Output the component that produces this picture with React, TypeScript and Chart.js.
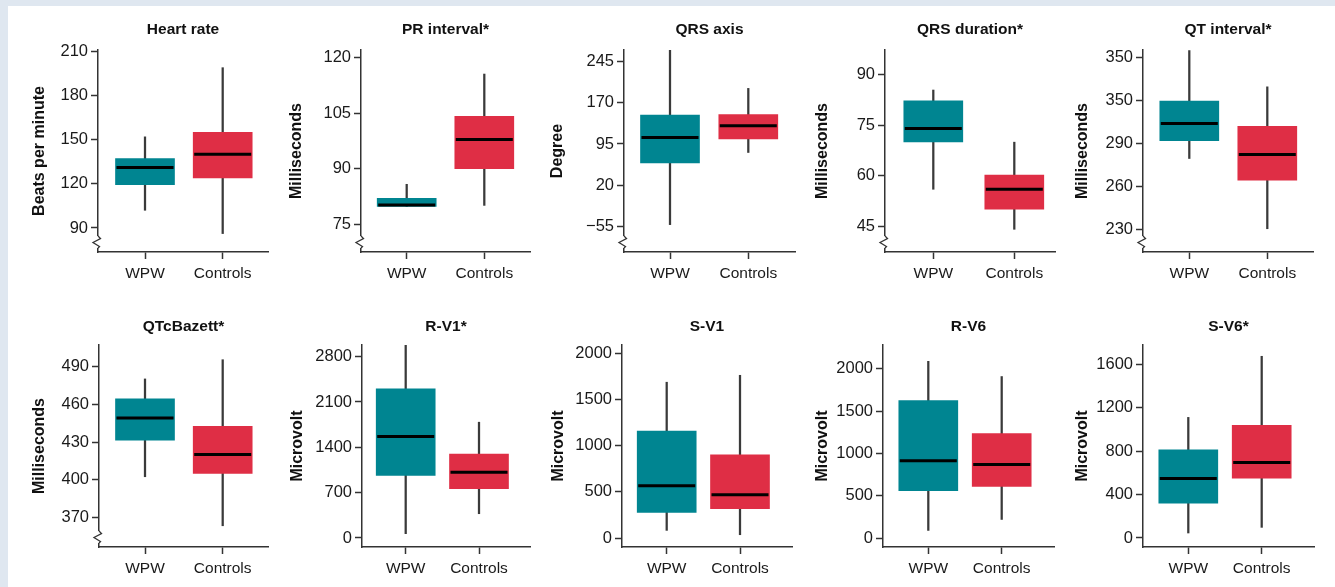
import React, { useEffect, useRef } from 'react';
import { Chart, registerables } from 'chart.js';

Chart.register(...registerables);

const FONT = "'Liberation Sans', Arial, Helvetica, sans-serif";

// Categories on every panel
const categories = ['WPW', 'Controls'];

const panelTitles = [
  'Heart rate', 'PR interval*', 'QRS axis', 'QRS duration*', 'QT interval*',
  'QTcBazett*', 'R-V1*', 'S-V1', 'R-V6', 'S-V6*',
];

const yAxisTitles = [
  'Beats per minute', 'Milliseconds', 'Degree', 'Milliseconds', 'Milliseconds',
  'Milliseconds', 'Microvolt', 'Microvolt', 'Microvolt', 'Microvolt',
];

// Five-number summaries: [min, q1, median, q3, max]
const heartRateWPW = [102, 119.4, 131, 137.1, 151.8];
const heartRateControls = [86.2, 124, 140, 154.8, 198.7];
const prIntervalWPW = [79.8, 79.8, 80.2, 82.0, 85.8];
const prIntervalControls = [80.1, 90, 97.9, 104.2, 115.6];
const qrsAxisWPW = [-52, 60.6, 106.8, 147.6, 266];
const qrsAxisControls = [79.5, 104.4, 128.1, 148.8, 196.3];
const qrsDurationWPW = [56, 70.1, 74.1, 82.3, 85.5];
const qrsDurationControls = [44.1, 50.1, 56, 60.2, 70];
const qtIntervalWPW = [279.4, 291.8, 303.9, 319.6, 355];
const qtIntervalControls = [230.2, 264.2, 282.2, 302, 329.6];
const qtcBazettWPW = [402.4, 431.4, 449.1, 464.4, 480.2];
const qtcBazettControls = [363.4, 405, 420.1, 442.5, 495.5];
const rV1WPW = [67, 966, 1567, 2302, 2975];
const rV1Controls = [375, 760, 1017, 1295, 1788];
const sV1WPW = [83, 277, 566, 1157, 1687];
const sV1Controls = [36, 317, 469, 901, 1762];
const rV6WPW = [90, 560, 915, 1625, 2090];
const rV6Controls = [220, 610, 870, 1235, 1910];
const sV6WPW = [46, 320, 548, 812, 1111];
const sV6Controls = [98, 551, 695, 1037, 1674];

const wpwSummaries = [heartRateWPW, prIntervalWPW, qrsAxisWPW, qrsDurationWPW, qtIntervalWPW,
  qtcBazettWPW, rV1WPW, sV1WPW, rV6WPW, sV6WPW];
const controlSummaries = [heartRateControls, prIntervalControls, qrsAxisControls, qrsDurationControls,
  qtIntervalControls, qtcBazettControls, rV1Controls, sV1Controls, rV6Controls, sV6Controls];

// Y tick values and their printed labels
const heartRateTicks = [90, 120, 150, 180, 210];
const prIntervalTicks = [75, 90, 105, 120];
const qrsAxisTicks = [-55, 20, 95, 170, 245];
const qrsDurationTicks = [45, 60, 75, 90];
const qtIntervalTicks = [230, 260, 290, 320, 350];
const qtcBazettTicks = [370, 400, 430, 460, 490];
const rV1Ticks = [0, 700, 1400, 2100, 2800];
const sV1Ticks = [0, 500, 1000, 1500, 2000];
const rV6Ticks = [0, 500, 1000, 1500, 2000];
const sV6Ticks = [0, 400, 800, 1200, 1600];

const yTickValues = [heartRateTicks, prIntervalTicks, qrsAxisTicks, qrsDurationTicks, qtIntervalTicks,
  qtcBazettTicks, rV1Ticks, sV1Ticks, rV6Ticks, sV6Ticks];

const qrsAxisTickLabels = ['\u221255', '20', '95', '170', '245'];
const qtIntervalTickLabels = ['230', '260', '290', '350', '350'];

const yTickLabels = yTickValues.map((ticks, i) =>
  i === 2 ? qrsAxisTickLabels : i === 4 ? qtIntervalTickLabels : ticks.map(String));

// Y axis ranges [min, max]
const yMins = [73.7, 67.5, -101.9, 37.35, 213.9, 346.5, -139, -97, -106, -83];
const yMaxs = [210.7, 122.1, 266.3, 97.4, 355.4, 507.2, 2980, 2090, 2283, 1778];
const brokenAxis = [true, true, true, true, true, true, false, false, false, false];

// Layout (pixels on the page)
const layout = [
  { row: 0, axisX: 98, wpwX: 145, ctrlX: 222.7, rightX: 268, titleGap: 58 },
  { row: 0, axisX: 361, wpwX: 406.7, ctrlX: 484.3, rightX: 530, titleGap: 64 },
  { row: 0, axisX: 624, wpwX: 670, ctrlX: 748.3, rightX: 795, titleGap: 66 },
  { row: 0, axisX: 885, wpwX: 933.3, ctrlX: 1014.3, rightX: 1055, titleGap: 62 },
  { row: 0, axisX: 1143, wpwX: 1189.3, ctrlX: 1267.3, rightX: 1313, titleGap: 60.6 },
  { row: 1, axisX: 99, wpwX: 145, ctrlX: 222.7, rightX: 268, titleGap: 59 },
  { row: 1, axisX: 362, wpwX: 405.7, ctrlX: 479, rightX: 530, titleGap: 64 },
  { row: 1, axisX: 622, wpwX: 666.7, ctrlX: 740, rightX: 792, titleGap: 63 },
  { row: 1, axisX: 883, wpwX: 928.3, ctrlX: 1001.7, rightX: 1054, titleGap: 60.6 },
  { row: 1, axisX: 1143, wpwX: 1188.3, ctrlX: 1261.7, rightX: 1314, titleGap: 60.6 },
];

const rows = [
  { top: 0, height: 290, xAxisHeight: 38, titleTop: 21, titleBottom: 11 },
  { top: 290, height: 297, xAxisHeight: 40, titleTop: 28, titleBottom: 9 },
];

const Y_AXIS_W = 90;
const RIGHT_PAD = 3;
const Y_TITLE_SIZE = 16;
const boxColors = ['#008591', '#df2e45'];
const axisColor = '#333333';
const textColor = '#1a1a1a';

function buildConfig(i: number): any {
  const l = layout[i];
  const r = rows[l.row];
  const unit = l.ctrlX - l.wpwX;
  const xMin = 1 - (l.wpwX - l.axisX) / unit;
  const xMax = 2 + (l.rightX - l.ctrlX) / unit;
  const summaries = [wpwSummaries[i], controlSummaries[i]];
  const medians = summaries.map((s) => s[2]);
  const ticks = yTickValues[i];
  const labels = yTickLabels[i];
  const lineH = Y_TITLE_SIZE * 1.2;
  const titlePad = Y_AXIS_W - l.titleGap - lineH / 2;

  const medianPlugin = {
    id: 'medianLines',
    afterDatasetsDraw(chart: any) {
      const { ctx, scales } = chart;
      const meta = chart.getDatasetMeta(0);
      ctx.save();
      ctx.strokeStyle = '#000';
      ctx.lineWidth = 3;
      medians.forEach((m, k) => {
        const bar = meta.data[k];
        if (!bar) return;
        const py = scales.y.getPixelForValue(m);
        ctx.beginPath();
        ctx.moveTo(bar.x - bar.width / 2 + 1, py);
        ctx.lineTo(bar.x + bar.width / 2 - 1, py);
        ctx.stroke();
      });
      ctx.restore();
    },
  };

  const breakPlugin = {
    id: 'axisBreak',
    afterDraw(chart: any) {
      if (!brokenAxis[i]) return;
      const { ctx, chartArea } = chart;
      const x = chartArea.left;
      const yb = chartArea.bottom;
      ctx.save();
      ctx.fillStyle = '#ffffff';
      ctx.fillRect(x - 2, yb - 16, 4, 12);
      ctx.strokeStyle = axisColor;
      ctx.lineWidth = 1.3;
      ctx.beginPath();
      ctx.moveTo(x, yb - 16);
      ctx.lineTo(x + 2.5, yb - 13.5);
      ctx.lineTo(x - 5, yb - 9.5);
      ctx.lineTo(x + 1.5, yb - 5.5);
      ctx.lineTo(x, yb - 4);
      ctx.stroke();
      ctx.restore();
    },
  };

  return {
    type: 'bar',
    data: {
      datasets: [
        {
          label: 'IQR',
          data: summaries.map((s, k) => ({ x: k + 1, y: [s[1], s[3]] })),
          backgroundColor: boxColors,
          borderWidth: 0,
          barThickness: 59,
          grouped: false,
          order: 1,
        },
        {
          label: 'Range',
          data: summaries.map((s, k) => ({ x: k + 1, y: [s[0], s[4]] })),
          backgroundColor: '#3a3a3a',
          borderWidth: 0,
          barThickness: 1.6,
          grouped: false,
          order: 2,
        },
      ],
    },
    options: {
      animation: false,
      responsive: false,
      maintainAspectRatio: false,
      layout: { padding: { left: 0, right: RIGHT_PAD, top: 0, bottom: 0 } },
      plugins: {
        legend: { display: false },
        tooltip: { enabled: false },
        title: {
          display: true,
          text: panelTitles[i],
          fullSize: false,
          color: '#111',
          font: { family: FONT, size: 15.5, weight: 'bold', lineHeight: 1.2 },
          padding: { top: r.titleTop - 0.3, bottom: r.titleBottom - 0.3 },
        },
      },
      scales: {
        x: {
          type: 'linear',
          min: xMin,
          max: xMax,
          offset: false,
          afterBuildTicks: (axis: any) => {
            axis.ticks = categories.map((_, k) => ({ value: k + 1 }));
          },
          afterFit: (axis: any) => {
            axis.height = r.xAxisHeight;
          },
          ticks: {
            autoSkip: false,
            maxRotation: 0,
            padding: 5,
            color: textColor,
            font: { family: FONT, size: 15.5 },
            callback: (_v: any, idx: number) => categories[idx],
          },
          grid: {
            display: true,
            offset: false,
            drawOnChartArea: false,
            drawTicks: true,
            tickLength: 7,
            tickColor: axisColor,
            tickWidth: 1.5,
          },
          border: { display: true, color: axisColor, width: 1.5 },
        },
        y: {
          type: 'linear',
          min: yMins[i],
          max: yMaxs[i],
          beginAtZero: false,
          afterBuildTicks: (axis: any) => {
            axis.ticks = ticks.map((v) => ({ value: v }));
          },
          afterFit: (axis: any) => {
            axis.width = Y_AXIS_W;
          },
          ticks: {
            autoSkip: false,
            padding: 3,
            color: textColor,
            font: { family: FONT, size: 16.5 },
            callback: (_v: any, idx: number) => labels[idx],
          },
          grid: {
            display: true,
            drawOnChartArea: false,
            drawTicks: true,
            tickLength: 7,
            tickColor: axisColor,
            tickWidth: 1.5,
          },
          border: { display: true, color: axisColor, width: 1.5 },
          title: {
            display: true,
            text: yAxisTitles[i],
            color: '#111',
            font: { family: FONT, size: Y_TITLE_SIZE, weight: 'bold', lineHeight: 1.2 },
            padding: { top: titlePad, bottom: 0 },
          },
        },
      },
    },
    plugins: [medianPlugin, breakPlugin],
  };
}

export default function App() {
  const refs = useRef<(HTMLCanvasElement | null)[]>([]);

  useEffect(() => {
    const charts = layout.map((_, i) => new Chart(refs.current[i] as HTMLCanvasElement, buildConfig(i)));
    return () => {
      charts.forEach((c) => c.destroy());
    };
  }, []);

  return (
    <div
      style={{
        position: 'fixed',
        left: 0,
        top: 0,
        width: 1335,
        height: 587,
        background: '#dfe7f0',
        overflow: 'hidden',
      }}
    >
      <div style={{ position: 'absolute', left: 8, top: 6, right: 0, bottom: 0, background: '#ffffff' }} />
      {layout.map((l, i) => {
        const r = rows[l.row];
        const left = l.axisX - Y_AXIS_W;
        const width = l.rightX - l.axisX + Y_AXIS_W + RIGHT_PAD;
        return (
          <canvas
            key={i}
            ref={(el) => {
              refs.current[i] = el;
            }}
            width={width}
            height={r.height}
            style={{ position: 'absolute', left, top: r.top, width, height: r.height }}
          />
        );
      })}
    </div>
  );
}
